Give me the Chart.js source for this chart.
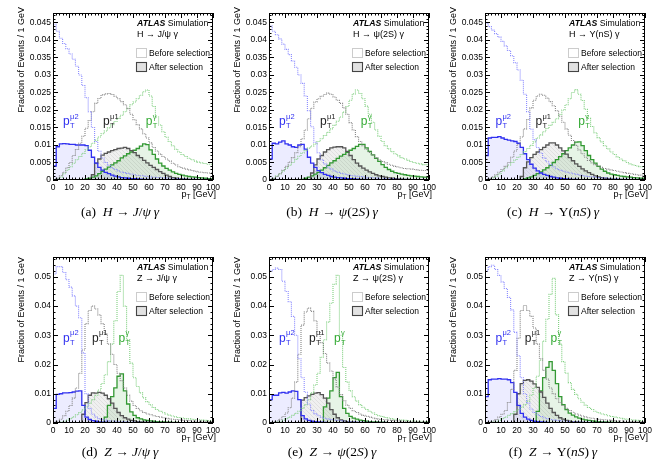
<!DOCTYPE html>
<html>
<head>
<meta charset="utf-8">
<script src="https://cdn.jsdelivr.net/npm/chart.js@4.4.1/dist/chart.umd.min.js"></script>
<style>
  html, body { margin: 0; padding: 0; background: #fff; }
  #page { position: relative; width: 663px; height: 470px; overflow: hidden; }
  #page canvas { position: absolute; left: 0; top: 0; }
  .cap { position: absolute; width: 220px; text-align: center; font-family: "Liberation Serif", serif; font-size: 13.5px; line-height: 16px; color: #000; white-space: nowrap; }
</style>
</head>
<body>
<div id="page">
  <canvas id="pa" width="663" height="470"></canvas>
  <canvas id="pb" width="663" height="470"></canvas>
  <canvas id="pc" width="663" height="470"></canvas>
  <canvas id="pd" width="663" height="470"></canvas>
  <canvas id="pe" width="663" height="470"></canvas>
  <canvas id="pf" width="663" height="470"></canvas>
  <div class="cap" style="left:10px;top:204px">(a)&nbsp; <i>H</i> → <i>J</i>/<i>ψ</i>&thinsp;<i>γ</i></div>
  <div class="cap" style="left:222px;top:204px">(b)&nbsp; <i>H</i> → <i>ψ</i>(2<i>S</i>)&thinsp;<i>γ</i></div>
  <div class="cap" style="left:443px;top:204px">(c)&nbsp; <i>H</i> → Υ(<i>nS</i>)&thinsp;<i>γ</i></div>
  <div class="cap" style="left:10px;top:444px">(d)&nbsp; <i>Z</i> → <i>J</i>/<i>ψ</i>&thinsp;<i>γ</i></div>
  <div class="cap" style="left:222px;top:444px">(e)&nbsp; <i>Z</i> → <i>ψ</i>(2<i>S</i>)&thinsp;<i>γ</i></div>
  <div class="cap" style="left:443px;top:444px">(f)&nbsp; <i>Z</i> → Υ(<i>nS</i>)&thinsp;<i>γ</i></div>
</div>
<script>
// lower edges of the 2 GeV pT bins
const binLow = [0,2,4,6,8,10,12,14,16,18,20,22,24,26,28,30,32,34,36,38,40,42,44,46,48,50,52,54,56,58,60,62,64,66,68,70,72,74,76,78,80,82,84,86,88,90,92,94,96,98];

// fraction of events per GeV, in units of 1e-3
// (a) H -> J/psi gamma
const aMu2Before = [45.5,44.5,42.5,40.5,39,37.5,36,34.5,32.5,30,27,23.5,19.5,15,11,8.2,6.3,5,4.2,3.5,3,2.6,2.3,2.1,1.9,1.7,1.5,1.3,1.2,1.1,1,.9,.8,.7,.7,.6,.6,.5,.5,.4,.4,.4,.3,.3,.3,.3,.2,.2,.2,.2];
const aMu1Before = [0,.1,.5,1.2,2.2,3.5,5,7,8.7,10.5,12.5,14.8,17,19.5,21.9,23.3,24.3,24.6,24.7,24.4,23.9,23.2,22.4,21.5,20.4,18.8,17.2,15.8,14.6,13.2,12,10.6,9.3,8.3,7.4,6.7,6,5.4,4.8,4.3,3.8,3.4,3.1,2.9,2.7,2.5,2.3,2.2,2.1,2];
const aGamBefore = [0,.1,.3,.8,1.8,2.8,3.8,4.8,5.8,6.7,7.6,8.6,9.5,10.5,11.4,12.3,13.2,14,14.9,15.8,16.7,17.6,18.5,19.5,20.5,21.5,22.3,23.2,24.2,25.2,25.7,24,21,18,15.7,13.8,12.2,11,9.8,8.8,8,7.3,6.7,6.2,5.8,5.4,5.1,4.9,4.7,4.5];
const aMu2After = [0,4,9.5,10.3,10.4,10.3,10.2,10.2,10,10,10,9.8,8.5,6.5,4.8,3.6,2.8,2.2,1.8,1.4,1.1,.9,.7,.6,.5,.4,.35,.3,.25,.2,.2,.15,.1,.1,.1,.1,.05,.05,.05,.05,0,0,0,0,0,0,0,0,0,0];
const aMu1After = [0,0,0,0,0,0,0,0,0,0,0,0,0,1.5,4.8,6,7.1,7.6,8,8.4,8.7,9,9.1,9.3,9,8.4,7.8,7,6.4,5.6,4.9,4.2,3.6,3,2.4,1.9,1.4,1,.7,.5,.4,.3,.25,.2,.15,.1,.1,.1,.05,.05];
const aGamAfter = [0,0,0,0,0,0,0,0,0,0,.1,.3,.5,.8,1.2,1.8,2.5,3.1,3.7,4.3,4.9,5.5,6.3,6.9,7.5,8,8.5,9,9.7,10.3,10.1,8.6,7.3,6,4.8,4,3.3,2.8,2.3,1.9,1.6,1.4,1.2,1,.9,.8,.7,.6,.5,.4];

// (b) H -> psi(2S) gamma
const bMu2Before = [45,44,42.5,41.5,40.3,38.8,37.3,35.8,34,32.2,30,27.6,24,19.8,15.2,10.8,7.8,5.8,4.6,3.7,3.1,2.6,2.2,1.9,1.7,1.5,1.3,1.2,1.1,1,.9,.8,.7,.6,.6,.5,.5,.4,.4,.4,.3,.3,.3,.3,.2,.2,.2,.2,.2,.2];
const bMu1Before = [0,.1,.4,1,1.8,2.8,3.9,5.1,6.4,7.8,9.5,11.8,14.3,17.5,20.5,22.3,23.2,23.9,24.4,24.8,24.5,23.7,22.8,21.9,20.6,18.8,16.4,14.3,12.4,11,9.8,8.8,7.9,7.1,6.4,5.8,5.3,4.9,4.5,4.2,3.9,3.7,3.5,3.3,3.2,3.1,3,2.9,2.8,2.7];
const bGamBefore = [0,.1,.5,1.1,1.8,2.6,3.4,4.2,5,5.9,6.8,7.7,8.4,9.1,9.7,10.3,11,11.8,12.7,13.6,14.6,15.6,16.8,18,19.4,21,22.8,24.6,25.7,24.7,23.2,21.1,18.8,16.5,14.3,12.5,11,9.8,8.9,8.1,7.5,6.9,6.4,6,5.6,5.3,5,4.8,4.6,4.4];
const bMu2After = [0,6,10.5,10.3,10.8,11.2,10.3,10,9.5,9.3,10,10.2,8.8,6.5,4.8,3.6,2.7,2.1,1.6,1.3,1,.8,.7,.6,.5,.4,.35,.3,.25,.2,.2,.15,.1,.1,.1,.1,.05,.05,.05,.05,0,0,0,0,0,0,0,0,0,0];
const bMu1After = [0,0,0,0,0,0,0,0,0,0,0,0,0,0,2,4.3,6,7,8,8.7,9.2,9.4,9.5,9.5,9.2,8.2,7,5.8,4.8,4,3.4,2.8,2.3,1.9,1.5,1.2,1,.8,.6,.5,.4,.3,.25,.2,.15,.1,.1,.1,.05,.05];
const bGamAfter = [0,0,0,0,0,0,0,0,0,0,0,.2,.5,.8,1.2,1.7,2.2,2.8,3.5,4.2,4.9,5.5,6.2,6.8,7.3,7.9,8.5,9,9.6,10.2,10.2,9.2,8.2,7.2,6.2,5.3,4.4,3.6,3,2.5,2.1,1.9,1.7,1.5,1.3,1.2,1.1,1,.9,.8];

// (c) H -> Upsilon(nS) gamma
const cMu2Before = [45.5,44.8,43.8,42.8,41.8,40.8,39.6,38.3,37,35.5,33.5,31.4,28.5,24.5,19.5,14.5,11.5,9.3,7.7,6.3,5.2,4.4,3.7,3.2,2.8,2.5,2.2,2,1.8,1.6,1.4,1.3,1.1,1,.9,.8,.7,.6,.6,.5,.5,.4,.4,.3,.3,.3,.3,.2,.2,.2];
const cMu1Before = [0,.1,.4,.9,1.5,2.2,3,3.9,5,6.5,8.3,10.2,12.3,14.6,17.3,20.6,22.8,24,24.5,24.2,23.4,22.4,21.2,19.8,18.2,16.5,14.6,12.8,11.3,9.9,8.6,7.5,6.5,5.6,4.9,4.4,4,3.6,3.3,3.1,2.9,2.7,2.5,2.3,2.1,1.9,1.8,1.6,1.5,1.4];
const cGamBefore = [0,0,.2,.6,1.1,1.8,2.6,3.5,4.3,5,5.7,6.5,7.3,8.1,9,9.9,10.9,12,12.9,13.8,14.7,15.6,16.5,17.5,18.7,20,21.5,23.2,25,25.8,24.5,22.7,20.2,17.6,15.3,13.5,12.1,10.9,9.8,8.9,8,7.3,6.6,6,5.5,5,4.6,4.3,4,3.8];
const cMu2After = [0,7,12,12.2,12.2,12.4,12,11.6,11.4,11.2,11,10.5,9.3,7.5,5.8,4.5,3.4,2.6,2,1.6,1.3,1,.8,.6,.5,.4,.3,.25,.2,.15,.1,.1,.1,.05,.05,.05,.05,0,0,0,0,0,0,0,0,0,0,0,0,0];
const cMu1After = [0,0,0,0,0,0,0,0,0,0,0,0,1,3.5,5.2,6.4,7.3,8,8.7,9.3,10,10.6,10.6,10,9.2,8.3,7.4,6.4,5.5,4.6,3.9,3.2,2.6,2.1,1.6,1.2,.9,.7,.5,.4,.3,.25,.2,.15,.1,.1,.1,.05,.05,.05];
const cGamAfter = [0,0,0,0,0,0,0,0,0,0,0,0,.1,.3,.6,.9,1.3,1.8,2.3,2.9,3.5,4.2,5,5.8,6.7,7.5,8.4,9.2,10,10.8,10.9,9.8,8.4,7,5.8,4.8,3.9,3.1,2.5,2,1.7,1.5,1.3,1.1,1,.9,.8,.7,.6,.5];

// (d) Z -> J/psi gamma
const dMu2Before = [49.5,51,53.5,53.5,51.5,49,46.5,43.5,40,36,24,10,5,3,2,1.5,1.2,1,.8,.7,.6,.5,.4,.4,.3,.3,.3,.3,.2,.2,.2,.2,.2,.2,.1,.1,.1,.1,.1,.1,.1,.1,.1,.1,.1,.1,.1,.1,.1,.1];
const dMu1Before = [0,.2,.6,1.3,2.5,4,6,8.5,12,17,25,34,38.5,40,39,37,34,30.5,27,23.5,20,17,14.5,12,9.5,7.5,6,5,4.2,3.6,3.1,2.8,2.5,2.2,2,1.8,1.6,1.4,1.3,1.2,1.1,1,.9,.8,.7,.7,.6,.6,.5,.5];
const dGamBefore = [0,0,.1,.3,.6,1,1.5,2.1,2.8,3.6,4.5,5.5,6.7,8,9.5,11.3,13.5,16.5,21,27,35,45,50.5,40,28.5,20.5,15.5,12.5,10.3,8.6,7.3,6.2,5.3,4.6,4,3.5,3.1,2.7,2.4,2.1,1.9,1.7,1.5,1.4,1.3,1.2,1.1,1,.9,.8];
const dMu2After = [0,5,9.8,10,10.3,10.3,10.4,10.6,10.9,11,6,2,1.2,.8,.6,.4,.3,.25,.2,.15,.1,.1,.1,.05,.05,.05,0,0,0,0,0,0,0,0,0,0,0,0,0,0,0,0,0,0,0,0,0,0,0,0];
const dMu1After = [0,0,0,0,0,0,0,0,0,0,3,7,9.5,10.3,10.2,10.5,10.2,9.5,8.3,6.8,5,3.6,2.5,1.8,1.3,.9,.7,.5,.4,.3,.25,.2,.15,.1,.1,.1,.05,.05,.05,.05,0,0,0,0,0,0,0,0,0,0];
const dGamAfter = [0,0,0,0,0,0,0,0,0,0,0,0,0,0,0,0,0,2,6,9,12,16,16.8,11,6.5,3.8,2.6,1.8,1.4,1.1,.9,.7,.6,.5,.4,.35,.3,.25,.2,.2,.15,.1,.1,.1,.1,.05,.05,.05,.05,.05];

// (e) Z -> psi(2S) gamma
const eMu2Before = [51,52,52.5,53,52.5,48.5,45,41.5,36.5,30,22,15.5,10.5,6.5,4.3,3.2,2.5,2,1.6,1.4,1.2,1,.9,.8,.7,.6,.5,.5,.4,.4,.3,.3,.3,.2,.2,.2,.2,.2,.1,.1,.1,.1,.1,.1,.1,.1,.1,.1,.1,.1];
const eMu1Before = [0,.1,.3,.7,1.3,2.2,3.4,5.2,8.5,14,23.5,33.5,38,39.3,38.2,35,31.3,27.5,23.8,20.5,17.8,15,12.3,9.7,7.6,6.1,5,4.2,3.6,3.1,2.6,2.3,2,1.7,1.5,1.3,1.2,1.1,1,.9,.8,.7,.6,.5,.5,.4,.4,.4,.3,.3];
const eGamBefore = [0,0,.1,.3,.6,1,1.5,2,2.6,3.3,4,5,6.3,8,10.3,13,17,22.5,28.5,34.5,41,47.5,50.5,30,19,14,11,9,7.5,6.3,5.4,4.6,4,3.4,2.9,2.5,2.2,1.9,1.7,1.5,1.3,1.1,1,.9,.8,.7,.7,.6,.6,.5];
const eMu2After = [0,8,9.5,9.5,10.3,10.5,10.2,10.6,11,10.8,8,2.5,1.4,.9,.6,.45,.35,.25,.2,.15,.1,.1,.05,.05,0,0,0,0,0,0,0,0,0,0,0,0,0,0,0,0,0,0,0,0,0,0,0,0,0,0];
const eMu1After = [0,0,0,0,0,0,0,0,0,0,0,7.8,8.7,9.3,9.8,10.2,10.4,9.7,8.5,6.8,4.6,3,1.8,1.1,.7,.5,.35,.25,.2,.15,.1,.1,.1,.05,.05,.05,0,0,0,0,0,0,0,0,0,0,0,0,0,0];
const eGamAfter = [0,0,0,0,0,0,0,0,0,0,0,0,0,0,0,0,0,0,5.5,8.5,11,15.5,17.3,9,5,3.3,2.3,1.7,1.3,1,.8,.6,.5,.4,.35,.3,.25,.2,.15,.15,.1,.1,.1,.05,.05,.05,.05,.05,0,0];

// (f) Z -> Upsilon(nS) gamma
const fMu2Before = [50,52,53.5,54,52.5,50.5,48.3,46,43,38.7,31,23,15.5,10,6.8,4.8,3.6,2.8,2.2,1.8,1.5,1.2,1,.9,.8,.7,.6,.5,.5,.4,.4,.3,.3,.3,.2,.2,.2,.2,.2,.1,.1,.1,.1,.1,.1,.1,.1,.1,.1,.1];
const fMu1Before = [0,.1,.3,.7,1.2,2,3,4.3,7,11.5,18,29,38.5,40.2,38.5,36.5,32.5,27,22,18,15,12,10,8.3,7,6,5,4.3,3.7,3.1,2.7,2.4,2.1,1.8,1.6,1.4,1.3,1.2,1.1,1,.9,.8,.7,.7,.6,.6,.5,.5,.5,.5];
const fGamBefore = [0,0,.1,.3,.6,1,1.5,2,2.6,3.2,3.9,4.6,5.4,6.2,7.5,9.5,12,16,21.5,28,35.5,44,49.5,37,27,21,17,13.8,11.5,9.8,8.3,7.1,6.1,5.3,4.6,4,3.5,3.1,2.8,2.5,2.2,2,1.8,1.6,1.4,1.3,1.1,1,.9,.8];
const fMu2After = [0,9,14.8,15,15,15.2,15,15,14.8,13.8,10.5,6,3.3,2,1.3,.9,.6,.45,.35,.25,.2,.15,.1,.1,.05,.05,0,0,0,0,0,0,0,0,0,0,0,0,0,0,0,0,0,0,0,0,0,0,0,0];
const fMu1After = [0,0,0,0,0,0,0,0,0,0,3,10,13.5,14.6,14.8,14.3,13.4,12.2,10.6,8.8,6.8,5,3.6,2.6,1.8,1.3,.9,.6,.45,.35,.25,.2,.15,.1,.1,.05,.05,0,0,0,0,0,0,0,0,0,0,0,0,0];
const fGamAfter = [0,0,0,0,0,0,0,0,0,0,0,0,0,0,0,0,0,4,11,15.5,19,21,18,13.5,9,6.3,4.6,3.4,2.7,2.1,1.7,1.3,1.1,.9,.7,.6,.5,.4,.35,.3,.25,.2,.2,.15,.1,.1,.1,.05,.05,.05];

const procNames = ["H → J/ψ γ", "H → ψ(2S) γ", "H → Υ(nS) γ", "Z → J/ψ γ", "Z → ψ(2S) γ", "Z → Υ(nS) γ"];

const FONT = '"Liberation Sans", Arial, sans-serif';
const BLUE = '#3030f0', GREY = '#555555', GREEN = '#339933';

// faint hatch for the muon-1 "after" fill
function hatch() {
  const c = document.createElement('canvas');
  c.width = 4; c.height = 4;
  const g = c.getContext('2d');
  g.fillStyle = 'rgba(0,0,0,0.06)';
  g.fillRect(0, 0, 4, 4);
  g.strokeStyle = 'rgba(0,0,0,0.12)';
  g.lineWidth = 0.6;
  g.beginPath(); g.moveTo(0, 0); g.lineTo(4, 4); g.stroke();
  return g.createPattern(c, 'repeat');
}
const greyFill = hatch();

function hist(vals) {
  const pts = binLow.map((x, i) => ({ x: x, y: vals[i] / 1000 }));
  pts.push({ x: 100, y: vals[vals.length - 1] / 1000 });
  return pts;
}

function before(vals, color) {
  return { data: hist(vals), stepped: 'after', borderColor: color, borderWidth: 1.1,
           borderDash: [1, 1], pointRadius: 0, fill: false };
}
function after(vals, color, bg) {
  return { data: hist(vals), stepped: 'after', borderColor: color, borderWidth: 1.3,
           pointRadius: 0, fill: 'origin', backgroundColor: bg };
}

function drawPT(ctx, x, y, sup, color) {
  ctx.fillStyle = color;
  ctx.textAlign = 'left';
  ctx.textBaseline = 'alphabetic';
  ctx.font = '12px ' + FONT;
  ctx.fillText('p', x, y);
  const w = ctx.measureText('p').width;
  ctx.font = '7.5px ' + FONT;
  ctx.fillText('T', x + w + 0.3, y + 3);
  ctx.fillText(sup, x + w + 0.3, y - 6.5);
}

const decor = {
  id: 'decor',
  afterDraw(chart, args, o) {
    const { ctx, chartArea: a } = chart;
    const xs = chart.scales.x, ys = chart.scales.y;
    ctx.save();
    ctx.strokeStyle = '#000';
    ctx.lineWidth = 1;
    ctx.strokeRect(a.left + 0.5, a.top + 0.5, a.right - a.left - 1, a.bottom - a.top - 1);
    ctx.beginPath();
    for (let v = 0; v <= 100; v += 2) {
      const px = Math.round(xs.getPixelForValue(v)) + 0.5;
      const len = v % 10 === 0 ? 5 : 2.5;
      ctx.moveTo(px, a.bottom); ctx.lineTo(px, a.bottom - len);
      ctx.moveTo(px, a.top); ctx.lineTo(px, a.top + len);
    }
    for (let k = 0; k * o.minor <= ys.max + 1e-9; k++) {
      const py = Math.round(ys.getPixelForValue(k * o.minor)) + 0.5;
      const len = k % 5 === 0 ? 5 : 2.5;
      ctx.moveTo(a.left, py); ctx.lineTo(a.left + len, py);
      ctx.moveTo(a.right, py); ctx.lineTo(a.right - len, py);
    }
    ctx.stroke();

    // axis titles
    ctx.fillStyle = '#000';
    ctx.font = '9px ' + FONT;
    ctx.save();
    ctx.translate(a.left - 31, a.top + o.yTitleShift);
    ctx.rotate(-Math.PI / 2);
    ctx.textAlign = 'right';
    ctx.textBaseline = 'middle';
    ctx.fillText('Fraction of Events / 1 GeV', 0, 0);
    ctx.restore();

    ctx.textAlign = 'right';
    ctx.textBaseline = 'alphabetic';
    const gev = ' [GeV]';
    const gw = ctx.measureText(gev).width;
    ctx.fillText(gev, a.right + 3, a.bottom + 17);
    ctx.font = '6.5px ' + FONT;
    const tw = ctx.measureText('T').width;
    ctx.fillText('T', a.right + 3 - gw, a.bottom + 19);
    ctx.font = '9px ' + FONT;
    ctx.fillText('p', a.right + 3 - gw - tw, a.bottom + 17);

    // ATLAS label and process
    const lx = a.right - 76;
    ctx.textAlign = 'left';
    ctx.font = 'italic bold 8.7px ' + FONT;
    ctx.fillText('ATLAS', lx, a.top + 13);
    const aw = ctx.measureText('ATLAS ').width;
    ctx.font = '8.7px ' + FONT;
    ctx.fillText('Simulation', lx + aw, a.top + 13);
    ctx.font = '9px ' + FONT;
    ctx.fillText(o.proc, lx, a.top + 24);

    // legend
    ctx.lineWidth = 1;
    ctx.fillStyle = '#fff';
    ctx.fillRect(lx - 0.5, a.top + 35.5, 10, 9);
    ctx.setLineDash([1, 1]);
    ctx.strokeStyle = '#999';
    ctx.strokeRect(lx - 0.5, a.top + 35.5, 10, 9);
    ctx.setLineDash([]);
    ctx.fillStyle = '#e2e2e2';
    ctx.fillRect(lx - 0.5, a.top + 49.5, 10, 9);
    ctx.strokeStyle = '#444';
    ctx.lineWidth = 1.1;
    ctx.strokeRect(lx - 0.5, a.top + 49.5, 10, 9);
    ctx.fillStyle = '#000';
    ctx.textBaseline = 'middle';
    ctx.font = '8.5px ' + FONT;
    ctx.fillText('Before selection', lx + 12, a.top + 40.5);
    ctx.fillText('After selection', lx + 12, a.top + 54.5);

    // pT labels
    const ly = ys.getPixelForValue(o.labY);
    drawPT(ctx, xs.getPixelForValue(o.labX[0]), ly, 'μ2', BLUE);
    drawPT(ctx, xs.getPixelForValue(o.labX[1]), ly, 'μ1', '#222');
    drawPT(ctx, xs.getPixelForValue(o.labX[2]), ly, 'γ', '#33aa33');
    ctx.restore();
  }
};

const panels = [
  { id: 'pa', L: 53,  R: 213, T: 13,  B: 180, top: true,  sets: [aMu2Before, aMu1Before, aGamBefore, aMu2After, aMu1After, aGamAfter], labX: [6.3, 31.3, 58], labY: 0.0157 },
  { id: 'pb', L: 269, R: 429, T: 13,  B: 180, top: true,  sets: [bMu2Before, bMu1Before, bGamBefore, bMu2After, bMu1After, bGamAfter], labX: [6.3, 31.9, 57.3], labY: 0.0157 },
  { id: 'pc', L: 485, R: 645, T: 13,  B: 180, top: true,  sets: [cMu2Before, cMu1Before, cGamBefore, cMu2After, cMu1After, cGamAfter], labX: [6.6, 31.6, 58.3], labY: 0.0157 },
  { id: 'pd', L: 53,  R: 213, T: 257, B: 423, top: false, sets: [dMu2Before, dMu1Before, dGamBefore, dMu2After, dMu1After, dGamAfter], labX: [6.3, 24.4, 41], labY: 0.0278 },
  { id: 'pe', L: 269, R: 429, T: 257, B: 423, top: false, sets: [eMu2Before, eMu1Before, eGamBefore, eMu2After, eMu1After, eGamAfter], labX: [6.3, 25, 40.6], labY: 0.0278 },
  { id: 'pf', L: 485, R: 645, T: 257, B: 423, top: false, sets: [fMu2Before, fMu1Before, fGamBefore, fMu2After, fMu1After, fGamAfter], labX: [6.6, 24.8, 41], labY: 0.0278 }
];

const Y_W = 36, X_H = 14;

panels.forEach((p, n) => {
  const s = p.sets;
  new Chart(document.getElementById(p.id), {
    type: 'line',
    data: {
      datasets: [
        before(s[0], '#8a8aff'),
        before(s[1], '#858585'),
        before(s[2], '#7fcf7f'),
        after(s[3], BLUE, 'rgba(100,100,255,0.12)'),
        after(s[4], GREY, greyFill),
        after(s[5], GREEN, 'rgba(80,180,80,0.14)')
      ]
    },
    options: {
      responsive: false,
      animation: false,
      devicePixelRatio: 1,
      layout: { padding: { left: p.L - Y_W, right: 663 - p.R, top: p.T, bottom: 470 - p.B - X_H } },
      plugins: {
        legend: { display: false },
        tooltip: { enabled: false },
        filler: { drawTime: 'beforeDatasetsDraw' },
        decor: {
          proc: procNames[n],
          minor: p.top ? 0.001 : 0.002,
          yTitleShift: p.top ? -6 : 0,
          labX: p.labX,
          labY: p.labY
        }
      },
      scales: {
        x: {
          type: 'linear', min: 0, max: 100,
          grid: { display: false, drawTicks: false },
          border: { display: false },
          ticks: { stepSize: 10, maxRotation: 0, autoSkip: false, padding: 3, color: '#000', font: { family: FONT, size: 8.5 } },
          afterFit(sc) { sc.height = X_H; sc.paddingLeft = 0; sc.paddingRight = 0; }
        },
        y: {
          min: 0, max: p.top ? 0.0477 : 0.0568,
          grid: { display: false, drawTicks: false },
          border: { display: false },
          ticks: {
            stepSize: p.top ? 0.005 : 0.01, includeBounds: false, padding: 2, color: '#000',
            font: { family: FONT, size: 8.5 },
            callback: v => v === 0 ? '0' : String(+v.toFixed(3))
          },
          afterFit(sc) { sc.width = Y_W; sc.paddingTop = 0; sc.paddingBottom = 0; }
        }
      }
    },
    plugins: [decor]
  });
});
</script>
</body>
</html>
